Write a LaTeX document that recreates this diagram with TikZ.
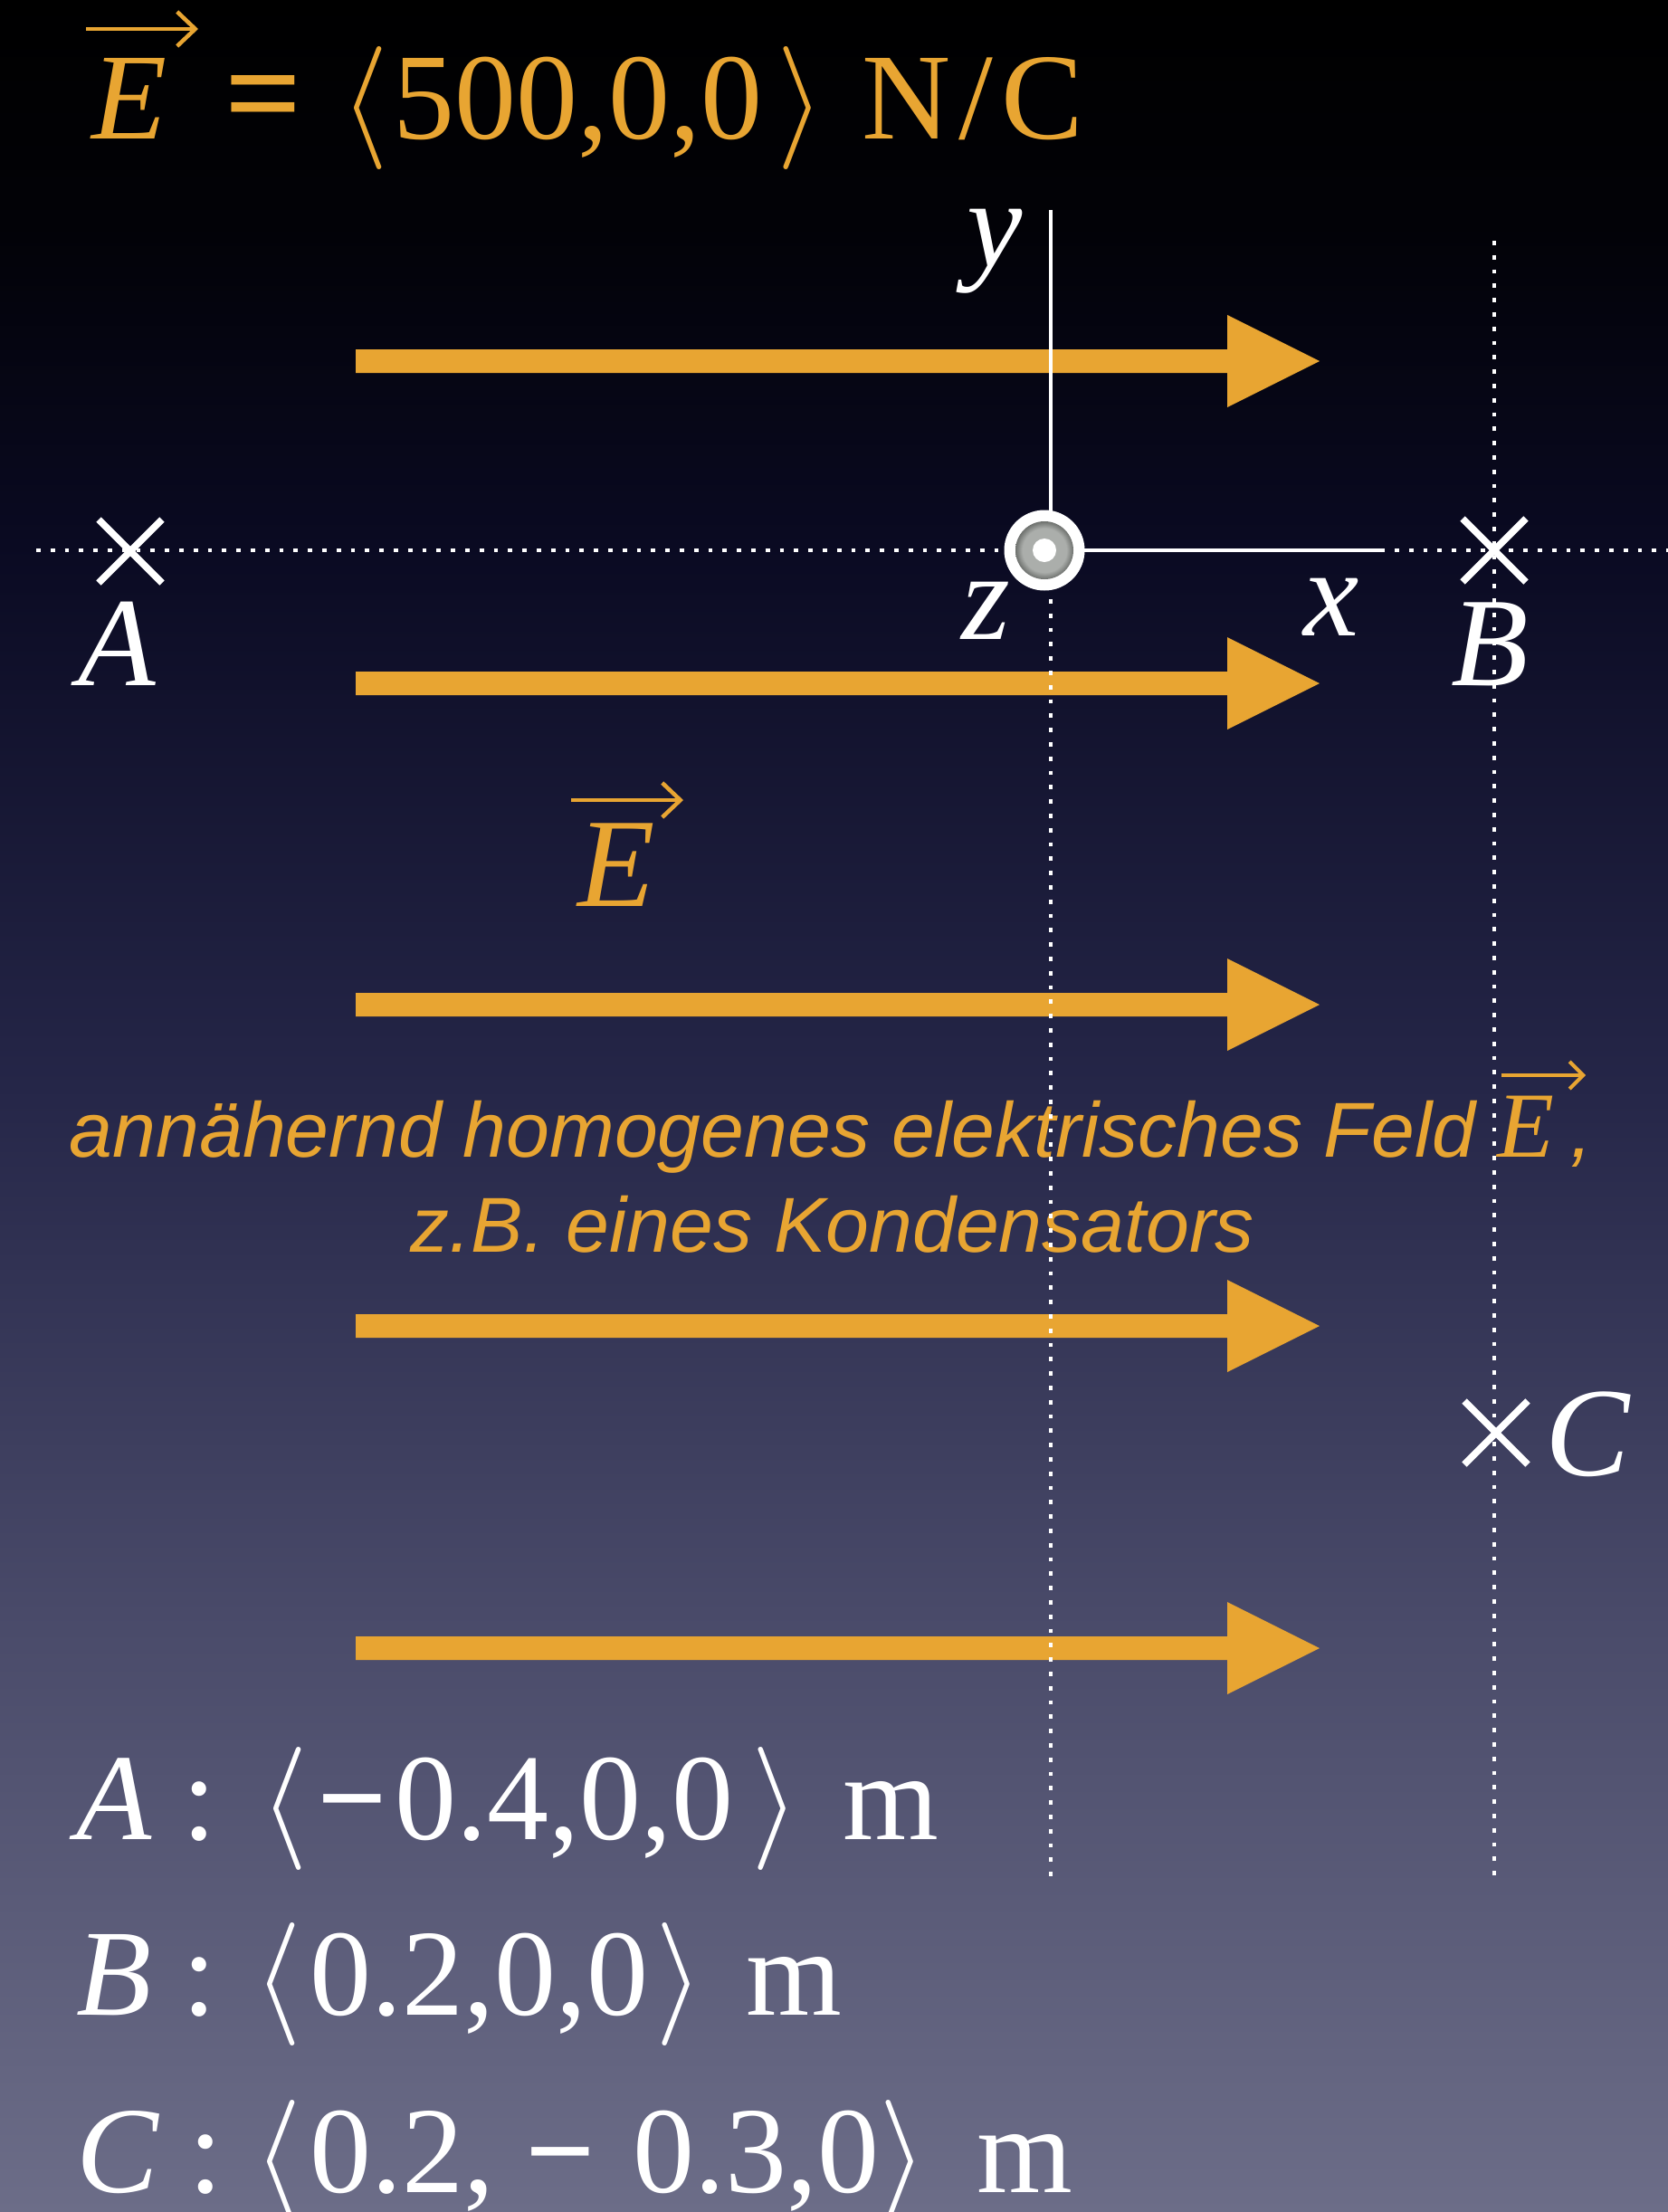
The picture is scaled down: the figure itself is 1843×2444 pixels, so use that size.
\RequirePackage{fix-cm}
\documentclass[tikz,border=0pt]{standalone}
\usepackage{fontspec}
\setmainfont{Liberation Serif}
\setsansfont{Liberation Sans}
\usetikzlibrary{shapes.misc,arrows.meta}
\definecolor{eorange}{HTML}{E8A532}
\definecolor{bgA}{HTML}{020207}
\definecolor{bgB}{HTML}{0A0A22}
\definecolor{bgC}{HTML}{252648}
\definecolor{bgD}{HTML}{4A4B6A}
\definecolor{bgE}{HTML}{6C6D88}
\definecolor{ogray}{HTML}{ABAEAB}
\definecolor{ogrim}{HTML}{6E716E}
\pgfdeclareverticalshading{bgshade}{100bp}{color(0bp)=(bgE); color(25bp)=(bgE); color(38.2bp)=(bgD); color(50.45bp)=(bgC); color(62.7bp)=(bgB); color(69.9bp)=(bgA); color(75bp)=(black); color(100bp)=(black)}
\pgfdeclareradialshading{odisc}{\pgfpoint{0bp}{0bp}}{color(0bp)=(ogray); color(19bp)=(ogray); color(25bp)=(ogrim); color(50bp)=(ogrim)}
\newcommand\fsz[1]{\fontsize{#1pt}{#1pt}\selectfont}
\newcommand\bminus{{\bfseries −}}
\begin{document}
\begin{tikzpicture}[x=1pt,y=-1pt,
  lbl/.style={anchor=base, inner sep=0pt, outer sep=0pt, text=white, font=\fsz{138}},
  coordline/.style={anchor=base west, inner sep=0pt, outer sep=0pt, text=white, font=\fsz{136}},
  otext/.style={anchor=base, inner sep=0pt, outer sep=0pt, text=eorange},
  vecarrow/.style={draw=eorange, line width=4.5pt, -{Straight Barb[length=20pt, width=38pt]}},
  dotline/.style={draw=white, line width=4.8pt, dash pattern=on 4.8pt off 11pt},
  axisline/.style={draw=white, line width=4.5pt},
  xmark/.style={cross out, draw=white, line width=7.5pt, minimum size=70pt, inner sep=0pt, outer sep=0pt},
  fieldarrow/.pic={\fill[eorange] (0,-13) -- (963,-13) -- (963,-51) -- (1065,0) -- (963,51) -- (963,13) -- (0,13) -- cycle;}
]
% background
\shade[shading=bgshade] (0,0) rectangle (1843,2444);
\useasboundingbox (0,0) rectangle (1843,2444);

% field arrows
\foreach \yy in {399,755,1110,1465,1821} { \pic at (393,\yy) {fieldarrow}; }

% title
\node[anchor=base west, inner sep=0pt, text=eorange, font=\fsz{136}\itshape] (tE) at (101,153) {E};
\node[anchor=base west, inner sep=0pt, text=eorange, font=\fsz{136}] (title) at (248,153)
  {{\fsz{150}\bfseries =}\kern 43pt$\langle$\kern 5pt500,0,0\kern 16pt$\rangle$\kern 41pt N\kern 9pt/\kern 9pt C};
\coordinate (tEa) at (95,32);
\coordinate (tEb) at (219,32);
\draw[vecarrow] (tEa) -- (tEb);

% middle E label
\node[otext, font=\fsz{140}\itshape] (Emid) at (681,1001) {E};
\coordinate (mEa) at (631,884);
\coordinate (mEb) at (755,884);
\draw[vecarrow] (mEa) -- (mEb);

% description
\node[otext, font=\fsz{86}\sffamily\itshape] (desc1) at (918,1278)
  {annähernd homogenes elektrisches Feld {\rmfamily\fsz{103}E}\kern 18pt,};
\node[otext, font=\fsz{86}\sffamily\itshape] (desc2) at (920,1383) {z.B. eines Kondensators};
\coordinate (dEa) at (1659,1188);
\coordinate (dEb) at (1752,1188);
\draw[vecarrow, line width=4pt, -{Straight Barb[length=15pt, width=30pt]}] (dEa) -- (dEb);

% coordinates list
\node[coordline] (lineA) at (84,2032)
  {{\itshape A} : \kern 15pt$\langle$\kern 10pt\bminus\kern 8pt0.4,0,0\kern 20pt$\rangle$\kern 48pt m};
\node[coordline] (lineB) at (84,2226)
  {{\itshape B} : \kern 8pt$\langle$\kern 9pt0.2,0,0\kern 8pt$\rangle$\kern 47pt m};
\node[coordline] (lineC) at (84,2422)
  {{\itshape C} : $\langle$\kern 9pt0.2,\kern 34pt\bminus\kern 42pt0.3,0$\rangle$\kern 55pt m};

% dotted lines
\coordinate (hl) at (40,608);
\coordinate (hr) at (1843,608);
\coordinate (v1t) at (1161,662);
\coordinate (v1b) at (1161,2074);
\coordinate (v2t) at (1651,266);
\coordinate (v2b) at (1651,2074);
\draw[dotline] (hl) -- (hr);
\draw[dotline] (v1t) -- (v1b);
\draw[dotline] (v2t) -- (v2b);

% axes
\coordinate (ytop) at (1161,232);
\coordinate (ybot) at (1161,600);
\coordinate (xend) at (1530,608);
\draw[axisline] (ytop) -- (ybot);
\draw[axisline] (1154,608) -- (xend);

% origin (z axis out of page)
\node[circle, fill=white, minimum size=89pt, inner sep=0pt] (O) at (1154,608) {};
\shade[shading=odisc] (O.center) circle (32);
\fill[white] (O.center) circle (13);

% points
\node[xmark] (A) at (144,609) {};
\node[xmark] (B) at (1651,608) {};
\node[xmark] (C) at (1653,1583) {};

% labels
\node[lbl, font=\fsz{140}] (Alab) at (129,757) {\itshape A};
\node[lbl, font=\fsz{140}] (Blab) at (1646,757) {\itshape B};
\node[lbl, font=\fsz{140}] (Clab) at (1754,1630) {\itshape C};
\node[lbl] (ylab) at (1099,294) {\itshape y};
\node[lbl] (zlab) at (1089,706) {\itshape z};
\node[lbl] (xlab) at (1471,702) {\itshape x};
\end{tikzpicture}
\end{document}
